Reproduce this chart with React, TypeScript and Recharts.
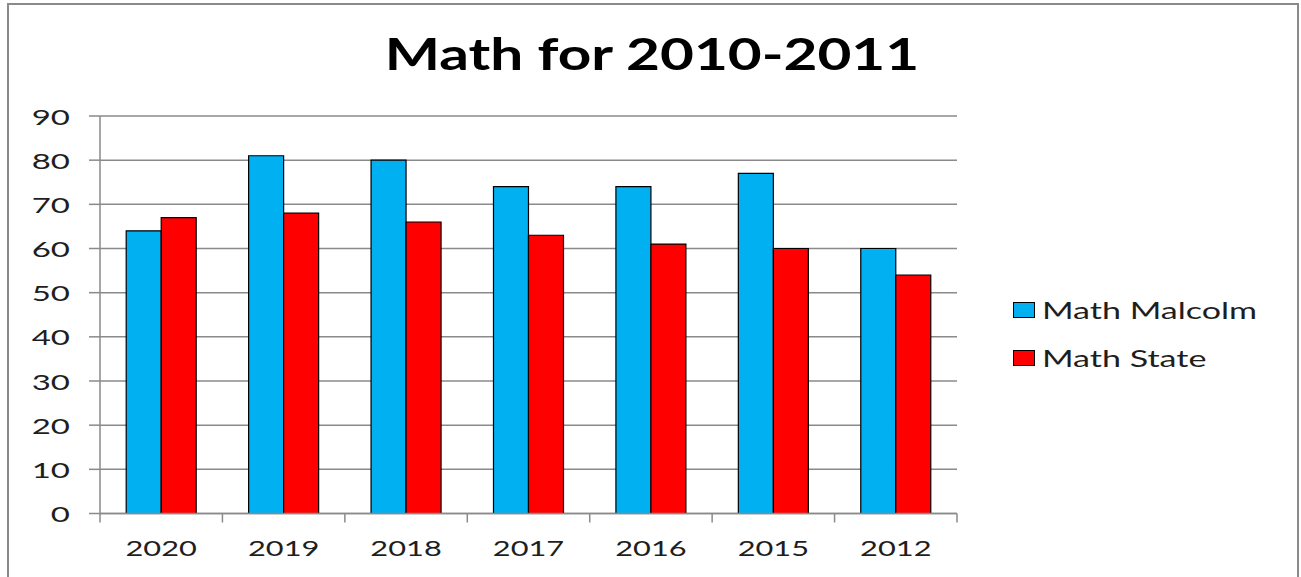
import React from 'react';
import { BarChart, Bar, XAxis, YAxis, CartesianGrid, Legend } from 'recharts';

const years = ['2020', '2019', '2018', '2017', '2016', '2015', '2012'];
const malcolm = [64, 81, 80, 74, 74, 77, 60];
const stateVals = [67, 68, 66, 63, 61, 60, 54];
const yTicks = [0, 10, 20, 30, 40, 50, 60, 70, 80, 90];
const seriesNames = ['Math Malcolm', 'Math State'];
const seriesKeys = ['malcolm', 'state'];
const seriesColors = ['#00B0F0', '#FF0000'];
const title = 'Math for 2010-2011';

const data = years.map((y, i) => ({ year: y, malcolm: malcolm[i], state: stateVals[i] }));

const W = 1301;
const H = 577;
const X_AXIS_H = 30;
const M = { top: 116, right: 344, bottom: 63.5 - X_AXIS_H, left: 0 };
const Y_AXIS_W = 100;
const plotW = W - M.right - M.left - Y_AXIS_W;
const band = plotW / years.length;
const FONT = 'Lato, "Open Sans", sans-serif';
const SX = 1.4;
const GRAY = '#8a8a8a';
const TEXT = '#1e1e1e';

const XTick = (props: any) => {
  const { x, y, payload, index } = props;
  const last = index === years.length - 1;
  return (
    <g>
      <line x1={x - band / 2} x2={x - band / 2} y1={y} y2={y + 9} stroke={GRAY} strokeWidth={1.5} />
      {last && <line x1={x + band / 2} x2={x + band / 2} y1={y} y2={y + 9} stroke={GRAY} strokeWidth={1.5} />}
      <text
        transform={`translate(${x},${y + 42.5}) scale(${SX},1)`}
        textAnchor="middle"
        fontFamily={FONT}
        fontSize={22}
        fill={TEXT}
      >
        {payload.value}
      </text>
    </g>
  );
};

const YTick = (props: any) => {
  const { x, y, payload } = props;
  return (
    <text
      transform={`translate(${x - 19},${y + 8.5}) scale(1.5,1)`}
      textAnchor="end"
      fontFamily={FONT}
      fontSize={22}
      fill={TEXT}
    >
      {payload.value}
    </text>
  );
};

const LegendContent = () => (
  <div style={{ position: 'relative' }}>
    {seriesNames.map((name, i) => (
      <div key={name} style={{ position: 'absolute', left: 0, top: i * 48.3, height: 20, width: 300 }}>
        <div
          style={{
            position: 'absolute',
            left: 0,
            top: 0,
            width: 20,
            height: 14,
            background: seriesColors[i],
            border: '1px solid #000',
          }}
        />
        <div
          style={{
            position: 'absolute',
            left: 29,
            top: -7,
            fontFamily: FONT,
            fontSize: 23,
            lineHeight: '30px',
            color: TEXT,
            whiteSpace: 'nowrap',
            transform: `scaleX(1.48)`,
            transformOrigin: 'left center',
          }}
        >
          {name}
        </div>
      </div>
    ))}
  </div>
);

export default function App() {
  return (
    <div style={{ position: 'absolute', left: 0, top: 0, width: W, height: H, background: '#fff', overflow: 'hidden' }}>
      <div
        style={{
          position: 'absolute',
          left: 7,
          top: 3,
          width: 1288,
          height: 620,
          border: `2px solid ${GRAY}`,
        }}
      />
      <div
        style={{
          position: 'absolute',
          left: 0,
          top: 32,
          width: 1304,
          textAlign: 'center',
          fontFamily: FONT,
          fontWeight: 700,
          fontSize: 43,
          lineHeight: '43px',
          color: '#000',
          transform: `scaleX(1.36)`,
          transformOrigin: 'center center',
        }}
      >
        {title}
      </div>
      <div style={{ position: 'absolute', left: 0, top: 0 }}>
        <BarChart width={W} height={H} data={data} margin={M} barCategoryGap="21.4%" barGap={0}>
          <CartesianGrid vertical={false} stroke={GRAY} strokeWidth={1.5} />
          <XAxis
            dataKey="year"
            height={X_AXIS_H}
            axisLine={{ stroke: GRAY, strokeWidth: 1.5 }}
            tickLine={false}
            tickSize={0}
            tickMargin={0}
            tick={<XTick />}
            interval={0}
          />
          <YAxis
            width={Y_AXIS_W}
            domain={[0, 90]}
            ticks={yTicks}
            axisLine={{ stroke: GRAY, strokeWidth: 1.5 }}
            tickLine={{ stroke: GRAY, strokeWidth: 1.5 }}
            tickSize={11}
            tickMargin={0}
            tick={<YTick />}
            interval={0}
          />
          <Legend
            layout="vertical"
            align="center"
            verticalAlign="middle"
            content={<LegendContent />}
            wrapperStyle={{ position: 'absolute', left: 1013, top: 302, width: 280, height: 100 }}
          />
          {seriesKeys.map((k, i) => (
            <Bar
              key={k}
              dataKey={k}
              name={seriesNames[i]}
              fill={seriesColors[i]}
              stroke="#000"
              strokeWidth={1.2}
              isAnimationActive={false}
            />
          ))}
        </BarChart>
      </div>
    </div>
  );
}
